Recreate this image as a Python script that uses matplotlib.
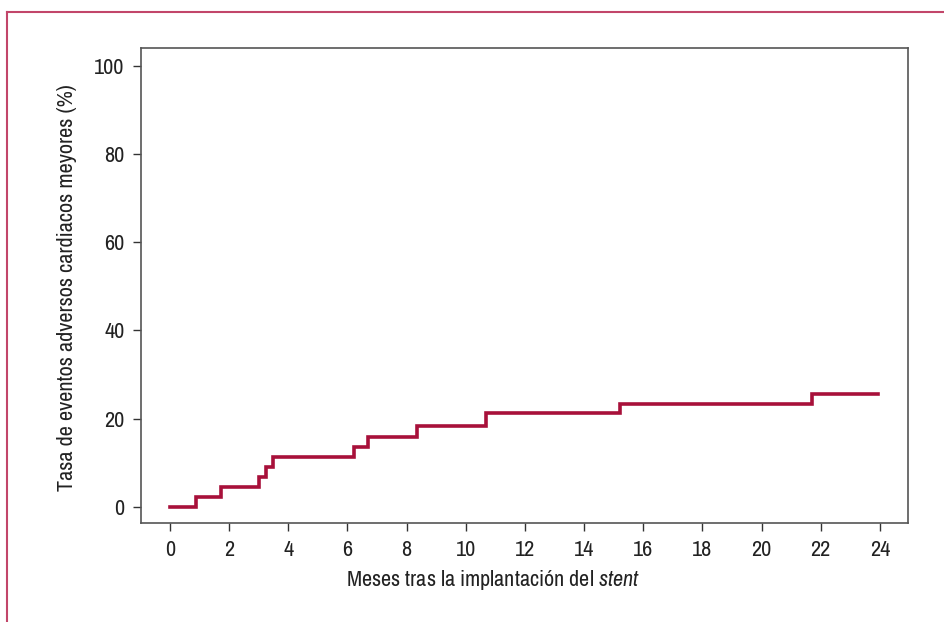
import matplotlib
matplotlib.use("Agg")
import matplotlib.pyplot as plt
from matplotlib import font_manager
from matplotlib.lines import Line2D

# --- Données ---
meses = [0, 0.87, 1.72, 3.02, 3.25, 3.49, 6.22, 6.71, 8.36, 10.7, 15.21, 21.69, 23.95]
tasa = [0, 2.3, 4.6, 6.9, 9.1, 11.4, 13.6, 15.9, 18.3, 21.2, 23.3, 25.7, 25.7]
xticks = list(range(0, 25, 2))
yticks = [0, 20, 40, 60, 80, 100]

RED = "#a8103a"
FRAME = "#c2466a"

# police étroite si disponible
names = sorted({f.name for f in font_manager.fontManager.ttflist})
narrow = [n for n in names if "Narrow" in n or "Condensed" in n]
family = narrow[0] if narrow else "Liberation Sans"
plt.rcParams["font.family"] = [family, "DejaVu Sans"]
plt.rcParams["mathtext.fontset"] = "custom"
plt.rcParams["mathtext.rm"] = family
plt.rcParams["mathtext.it"] = family + ":italic"

fig = plt.figure(figsize=(9.45, 6.22), dpi=100)
ax = fig.add_axes([0.1492, 0.1592, 0.8116, 0.7644])

# courbe en escalier
ax.step(meses, tasa, where="post", color=RED, lw=2.6, solid_joinstyle="miter")

ax.set_xlim(-0.98, 24.95)
ax.set_ylim(-3.6, 104.1)
ax.set_xticks(xticks)
ax.set_yticks(yticks)
ax.tick_params(direction="out", length=6, width=1, color="#333333",
               labelsize=16, labelcolor="#222222", pad=6)
for s in ax.spines.values():
    s.set_color("#555555")
    s.set_linewidth(1.2)

ax.set_ylabel("Tasa de eventos adversos cardiacos meyores (%)", fontsize=16,
              color="#222222")
ax.yaxis.set_label_coords(-0.083, 0.495)
ax.set_xlabel("Meses tras la implantación del $\\mathit{stent}$", fontsize=16,
              color="#222222")
ax.xaxis.set_label_coords(0.459, -0.094)

# ---- cadre extérieur (haut + gauche) ----
fig.add_artist(Line2D([0.0079, 0.0079], [0, 0.9815], transform=fig.transFigure,
                      color=FRAME, lw=1.5))
fig.add_artist(Line2D([0.0079, 1.0], [0.9815, 0.9815], transform=fig.transFigure,
                      color=FRAME, lw=1.5))

fig.savefig("out.png", dpi=100)
